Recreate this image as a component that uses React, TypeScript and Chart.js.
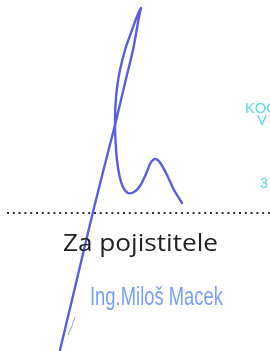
import React, { useEffect, useRef } from "react";
import { Chart, registerables } from "chart.js";

Chart.register(...registerables);

// Signature stroke (page pixel coordinates, y downward)
const sigX = [60, 72, 92, 104, 116, 125, 133, 137, 140, 141, 138, 132, 125, 120, 117, 115.5, 115, 115.5, 117, 119.5, 123, 128, 134, 140, 146, 150, 153.5, 157, 161, 167, 174, 182];
const sigY = [350, 300, 216, 168, 121, 83, 50, 28, 12, 8, 14, 30, 50, 70, 88, 105, 122, 140, 160, 176, 187, 193, 192, 186, 174, 164, 159.5, 159.5, 164, 175, 190, 203];

// Small pen tick near the bottom
const tickX = [75, 72, 68];
const tickY = [317, 326, 335];

// Dotted signature line
const dotX = [7, 270];
const dotY = [213, 213];

// Texts
const textItems = [
  { text: "Za pojistitele", x: 63, y: 251, width: 155, size: 23, font: "'Open Sans'", color: "#222222" },
  { text: "Ing.Miloš Macek", x: 90, y: 305, width: 133, size: 25, font: "'Liberation Sans'", color: "#7c9ff0" },
  { text: "KOC", x: 245, y: 113, width: 32, size: 14, font: "'Liberation Sans'", color: "#5fd8e0" },
  { text: "V", x: 257, y: 125, width: 10, size: 14, font: "'Liberation Sans'", color: "#5fd8e0" },
  { text: "3", x: 260, y: 188, width: 8, size: 14, font: "'Liberation Sans'", color: "#5fd8e0" },
];

const toPts = (xs: number[], ys: number[]) => xs.map((x, i) => ({ x, y: ys[i] }));

const textPlugin = {
  id: "textPlugin",
  afterDatasetsDraw(chart: any) {
    const ctx = chart.ctx;
    const sx = chart.scales.x;
    const sy = chart.scales.y;
    textItems.forEach((t) => {
      ctx.save();
      ctx.font = `${t.size}px ${t.font}`;
      ctx.fillStyle = t.color;
      ctx.textBaseline = "alphabetic";
      ctx.textAlign = "left";
      const w = ctx.measureText(t.text).width;
      const px = sx.getPixelForValue(t.x);
      const py = sy.getPixelForValue(t.y);
      ctx.translate(px, py);
      ctx.scale(t.width / w, 1);
      ctx.fillText(t.text, 0, 0);
      ctx.restore();
    });
  },
};

export default function App() {
  const ref = useRef<HTMLCanvasElement>(null);
  useEffect(() => {
    document.body.style.margin = "0";
    const chart = new Chart(ref.current!, {
      type: "scatter",
      data: {
        datasets: [
          {
            data: toPts(dotX, dotY),
            showLine: true,
            borderColor: "#333333",
            borderWidth: 2,
            borderDash: [2, 3.8],
            pointRadius: 0,
          },
          {
            data: toPts(tickX, tickY),
            showLine: true,
            borderColor: "rgba(90,95,208,0.6)",
            borderWidth: 1,
            pointRadius: 0,
          },
          {
            data: toPts(sigX, sigY),
            showLine: true,
            borderColor: "#5a60d2",
            borderWidth: 2.4,
            tension: 0.3,
            pointRadius: 0,
            borderCapStyle: "round",
            borderJoinStyle: "round",
          },
        ],
      },
      options: {
        responsive: false,
        animation: false,
        layout: { padding: 0 },
        plugins: { legend: { display: false }, tooltip: { enabled: false } },
        scales: {
          x: { type: "linear", min: 0, max: 270, display: false },
          y: { type: "linear", min: 0, max: 351, reverse: true, display: false },
        },
      },
      plugins: [textPlugin],
    } as any);
    return () => chart.destroy();
  }, []);
  return (
    <div style={{ position: "fixed", left: 0, top: 0, width: 270, height: 351, background: "#fff" }}>
      <canvas ref={ref} width={270} height={351} />
    </div>
  );
}
